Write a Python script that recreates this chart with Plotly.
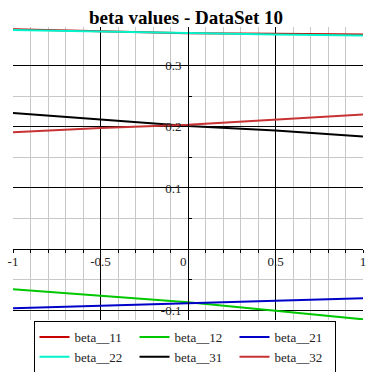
import plotly.graph_objects as go

x_vals = [-1.0, -0.5, 0.0, 0.5, 1.0]
beta_11 = [0.3593, 0.3560, 0.3527, 0.3516, 0.3506]
beta_12 = [-0.0654, -0.0759, -0.0866, -0.1003, -0.1144]
beta_21 = [-0.0964, -0.0922, -0.0883, -0.0845, -0.0801]
beta_22 = [0.3579, 0.3555, 0.3525, 0.3506, 0.3490]
beta_31 = [0.2226, 0.2113, 0.2011, 0.1940, 0.1842]
beta_32 = [0.1910, 0.1980, 0.2031, 0.2119, 0.2200]

names = ["beta__11", "beta__12", "beta__21", "beta__22", "beta__31", "beta__32"]
colors = ["#c80000", "#00c800", "#0000c8", "#00f5cc", "#000000", "#c83232"]
series = [beta_11, beta_12, beta_21, beta_22, beta_31, beta_32]

x_ticks = [-1, -0.5, 0, 0.5, 1]
x_ticktext = ["-1", "-0.5", "0\u00a0\u00a0\u00a0", "0.5", "1"]
y_ticks = [-0.1, 0.1, 0.2, 0.3]
y_ticktext = ["-0.1", "0.1", "0.2", "0.3"]
y_minor = [-0.05, 0.05, 0.15, 0.25]

ymin, ymax = -0.1155, 0.3628

fig = go.Figure()
for n, c, s in zip(names, colors, series):
    fig.add_trace(go.Scatter(x=x_vals, y=s, mode="lines", name=n,
                             line=dict(color=c, width=2)))

fig.update_layout(
    width=372, height=372,
    margin=dict(l=13, r=9, t=27, b=52, autoexpand=False),
    paper_bgcolor="white", plot_bgcolor="white",
    font=dict(family="Liberation Serif", size=13, color="#222222"),
    title=dict(text="<b>beta values - DataSet 10</b>", x=0.5, xanchor="center",
               y=1 - 17 / 372, yanchor="middle",
               font=dict(family="Liberation Serif", size=19, color="black")),
    showlegend=True,
    legend=dict(orientation="h", x=0.49, xanchor="center",
                yref="container", y=1 - 321 / 372, yanchor="top",
                entrywidth=55, entrywidthmode="pixels",
                bordercolor="black", borderwidth=1, bgcolor="white",
                font=dict(family="Liberation Serif", size=13, color="#222222"),
                tracegroupgap=0),
    xaxis=dict(range=[-1, 1], tickmode="array", tickvals=x_ticks, ticktext=x_ticktext,
               showgrid=True, gridcolor="black", gridwidth=1,
               zeroline=True, zerolinecolor="black", zerolinewidth=1,
               showline=True, linecolor="black", linewidth=1,
               anchor="free", position=(0 - ymin) / (ymax - ymin),
               ticks="", ticklabelstandoff=0,
               minor=dict(dtick=0.1, tick0=0, showgrid=True, gridcolor="#c8c8c8",
                          ticks="outside", ticklen=3, tickcolor="black")),
    yaxis=dict(range=[ymin, ymax], tickmode="array", tickvals=y_ticks, ticktext=y_ticktext,
               showgrid=True, gridcolor="black", gridwidth=1,
               zeroline=True, zerolinecolor="black", zerolinewidth=1,
               showline=True, linecolor="black", linewidth=1,
               anchor="free", position=0.5,
               ticks="", ticklabelstandoff=4,
               minor=dict(tickmode="array", tickvals=y_minor, showgrid=True,
                          gridcolor="#c8c8c8", ticks="inside", ticklen=3,
                          tickcolor="black")),
)

fig.write_html("out.html", config={"displayModeBar": False},
               post_script="document.body.style.margin='0';document.body.style.overflow='hidden';")
